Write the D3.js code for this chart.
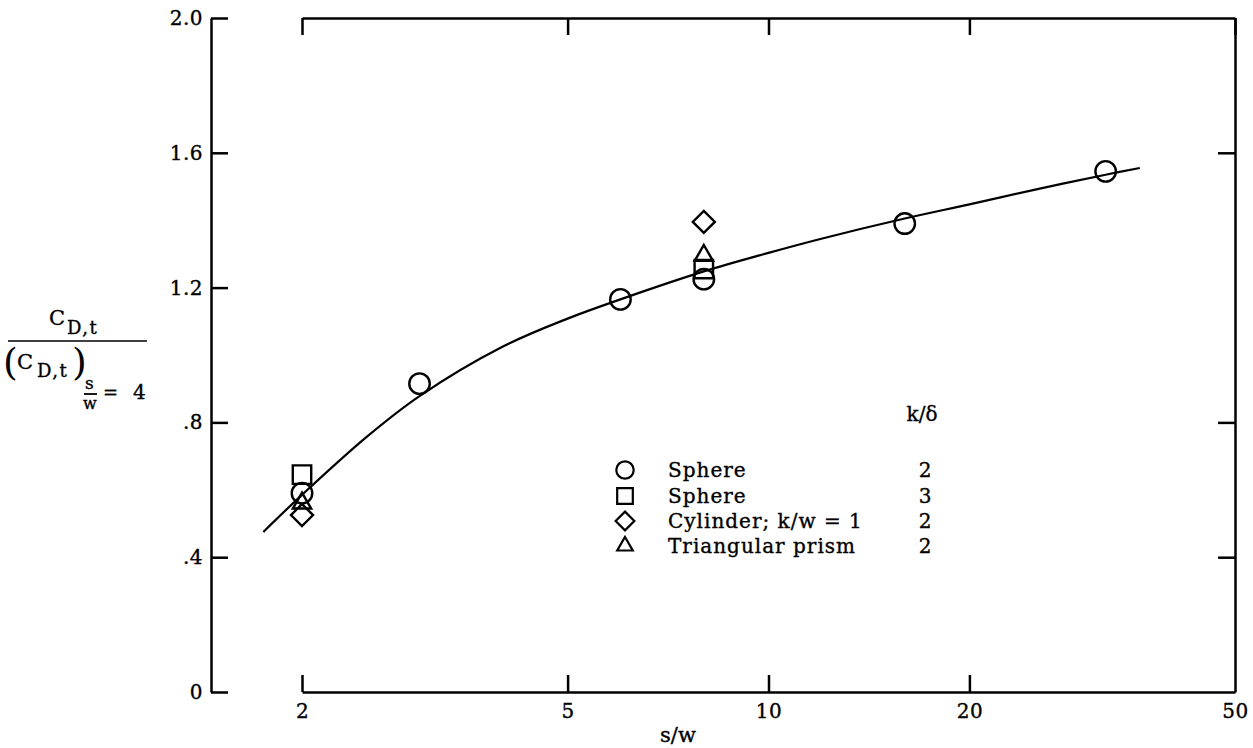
<!DOCTYPE html>
<html>
<head>
<meta charset="utf-8">
<script src="https://cdn.jsdelivr.net/npm/d3@7"></script>
<style>
  body { margin: 0; background: #fff; }
  svg { display: block; font-family: "DejaVu Serif", "Liberation Serif", serif; }
  text { fill: #000; stroke: #000; stroke-width: 0.35px; }
</style>
</head>
<body>
<svg id="chart" width="1253" height="748"></svg>
<script>
// data
var sphere2S   = [2, 3, 6, 8, 16, 32];
var sphere2Val = [0.59, 0.915, 1.165, 1.225, 1.39, 1.545];
var sphere3S   = [2, 8];
var sphere3Val = [0.645, 1.255];
var cylS       = [2, 8];
var cylVal     = [0.525, 1.395];
var triS       = [2, 8];
var triVal     = [0.56, 1.295];

// faired curve
var curveS   = [1.75, 2, 2.5, 3, 4, 5, 6, 8, 10, 12, 16, 20, 25, 32, 36];
var curveVal = [0.475, 0.585, 0.757, 0.878, 1.025, 1.108, 1.165, 1.248, 1.303, 1.345, 1.405, 1.447, 1.49, 1.535, 1.555];

var xTicks = [2, 5, 10, 20, 50];
var yTicks = [0, 0.4, 0.8, 1.2, 1.6, 2.0];
var yTicksRight = [0.4, 0.8, 1.6];

var legendNames = ["Sphere", "Sphere", "Cylinder; k/w = 1", "Triangular prism"];
var legendKd = ["2", "3", "2", "2"];
var legendShapes = ["circle", "square", "diamond", "triangle"];

var svg = d3.select("#chart");

var x = d3.scaleLog().domain([2, 50]).range([302, 1235]);
var y = d3.scaleLinear().domain([0, 2]).range([692, 18]);

var yFmt = function(d) { return d === 0 ? "0" : d3.format(".1f")(d).replace(/^0/, ""); };

// left axis (separate from the frame)
var gl = svg.append("g")
    .attr("transform", "translate(211,0)")
    .call(d3.axisLeft(y).tickValues(yTicks).tickSizeInner(-17).tickSizeOuter(0).tickPadding(8).tickFormat(yFmt));

// frame: bottom, top, right
var gb = svg.append("g")
    .attr("transform", "translate(0," + y(0) + ")")
    .call(d3.axisBottom(x).tickValues(xTicks).tickSizeInner(-17).tickSizeOuter(0).tickPadding(12).tickFormat(d3.format("d")));
var gt = svg.append("g")
    .attr("transform", "translate(0," + y(2) + ")")
    .call(d3.axisTop(x).tickValues(xTicks).tickSizeInner(-17).tickSizeOuter(0).tickFormat(""));
var gr = svg.append("g")
    .attr("transform", "translate(" + x(50) + ",0)")
    .call(d3.axisRight(y).tickValues(yTicksRight).tickSizeInner(-17).tickSizeOuter(0).tickFormat(""));

svg.selectAll(".domain, .tick line")
    .attr("stroke", "#000")
    .attr("stroke-width", 2.5);
svg.selectAll(".tick text")
    .style("font-size", "20px")
    .style("letter-spacing", "0.5px")
    .style("font-family", "DejaVu Serif, serif");
// 50 label sits at the corner
gb.selectAll(".tick").filter(function(d) { return d === 50; }).select("line").remove();

// x title
svg.append("text")
    .attr("x", 678).attr("y", 742)
    .attr("text-anchor", "middle")
    .style("font-size", "21px")
    .text("s/w");

// y title as a fraction
var yl = svg.append("g");
var num = yl.append("text").attr("x", 49).attr("y", 325).style("font-size", "21px");
num.append("tspan").text("C");
num.append("tspan").attr("dy", 9).attr("dx", 2).style("font-size", "18px").style("letter-spacing", "1.5px").text("D,t");
yl.append("line")
    .attr("x1", 8).attr("x2", 147).attr("y1", 341).attr("y2", 341)
    .attr("stroke", "#000").attr("stroke-width", 1.5);
yl.append("text").attr("x", 3).attr("y", 375).style("font-size", "38px").style("stroke-width", "0").text("(");
var den = yl.append("text").attr("x", 17).attr("y", 369).style("font-size", "21px");
den.append("tspan").text("C");
den.append("tspan").attr("dy", 8).attr("dx", 4).style("font-size", "18px").style("letter-spacing", "1.5px").text("D,t");
yl.append("text").attr("x", 72).attr("y", 375).style("font-size", "38px").style("stroke-width", "0").text(")");
yl.append("text").attr("x", 85).attr("y", 389).style("font-size", "17px").text("s");
yl.append("line")
    .attr("x1", 84).attr("x2", 97).attr("y1", 394).attr("y2", 394)
    .attr("stroke", "#000").attr("stroke-width", 1.8);
yl.append("text").attr("x", 83).attr("y", 409).style("font-size", "16px").text("w");
yl.append("text").attr("x", 103).attr("y", 399).style("font-size", "18px").text("=");
yl.append("text").attr("x", 133).attr("y", 399).style("font-size", "20px").text("4");

// curve
var curvePts = curveS.map(function(s, i) { return [s, curveVal[i]]; });
var line = d3.line()
    .x(function(d) { return x(d[0]); })
    .y(function(d) { return y(d[1]); })
    .curve(d3.curveCatmullRom);
svg.append("path")
    .datum(curvePts)
    .attr("d", line)
    .attr("fill", "none")
    .attr("stroke", "#000")
    .attr("stroke-width", 2.2);

// symbols
var symType = {
    circle: d3.symbolCircle,
    square: d3.symbolSquare,
    diamond: d3.symbolDiamond2,
    triangle: d3.symbolTriangle2
};
var symSize = { circle: 330, square: 340, diamond: 310, triangle: 240 };

function drawPoints(sArr, vArr, shape, k) {
    var pts = sArr.map(function(s, i) { return { s: s, v: vArr[i] }; });
    var sym = d3.symbol().type(symType[shape]).size(symSize[shape] * (k || 1));
    svg.append("g").selectAll("path")
        .data(pts)
        .enter().append("path")
        .attr("transform", function(d) { return "translate(" + x(d.s) + "," + y(d.v) + ")"; })
        .attr("d", sym)
        .attr("fill", "none")
        .attr("stroke", "#000")
        .attr("stroke-width", 2.4);
}
drawPoints(sphere2S, sphere2Val, "circle");
drawPoints(sphere3S, sphere3Val, "square");
drawPoints(cylS, cylVal, "diamond");
drawPoints(triS, triVal, "triangle");

// legend
var lg = svg.append("g");
lg.append("text")
    .attr("x", 922).attr("y", 421)
    .attr("text-anchor", "middle")
    .style("font-size", "20px")
    .text("k/\u03b4");
var rowY = [470, 496, 521, 546];
legendNames.forEach(function(name, i) {
    var sym = d3.symbol().type(symType[legendShapes[i]]).size(symSize[legendShapes[i]] * 0.72);
    lg.append("path")
        .attr("transform", "translate(625," + rowY[i] + ")")
        .attr("d", sym)
        .attr("fill", "none")
        .attr("stroke", "#000")
        .attr("stroke-width", 2.2);
    lg.append("text")
        .attr("x", 668).attr("y", rowY[i] + 7)
        .style("font-size", "20px")
        .style("letter-spacing", "1px")
        .text(name);
    lg.append("text")
        .attr("x", 925).attr("y", rowY[i] + 7)
        .attr("text-anchor", "middle")
        .style("font-size", "20px")
        .text(legendKd[i]);
});
</script>
</body>
</html>
